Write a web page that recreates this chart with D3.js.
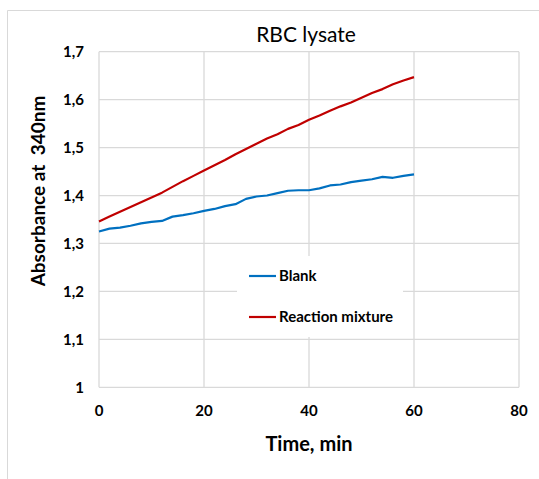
<!DOCTYPE html>
<html>
<head>
<meta charset="utf-8">
<script src="https://cdn.jsdelivr.net/npm/d3@7"></script>
<style>
  html, body { margin: 0; padding: 0; background: #fff; }
  svg { display: block; }
  text { font-family: Lato, "Open Sans", sans-serif; fill: #000; white-space: pre; }
</style>
</head>
<body>
<script>
const times = [0,2,4,6,8,10,12,14,16,18,20,22,24,26,28,30,32,34,36,38,40,42,44,46,48,50,52,54,56,58,60];
const blank = [1.325,1.331,1.333,1.337,1.342,1.345,1.347,1.356,1.359,1.363,1.368,1.372,1.378,1.382,1.393,1.398,1.400,1.405,1.410,1.411,1.411,1.415,1.421,1.423,1.428,1.431,1.434,1.439,1.437,1.441,1.444];
const reaction = [1.346,1.356,1.366,1.376,1.386,1.396,1.406,1.418,1.430,1.441,1.452,1.463,1.474,1.486,1.497,1.508,1.519,1.528,1.539,1.547,1.558,1.567,1.577,1.586,1.594,1.604,1.614,1.622,1.632,1.640,1.647];
const xTicks = [0,20,40,60,80];
const yTicks = [1,1.1,1.2,1.3,1.4,1.5,1.6,1.7];
const seriesNames = ["Blank","Reaction mixture"];
const seriesColors = ["#0070C0","#C00000"];
const title = "RBC lysate";
const xTitle = "Time, min";
const yTitle = "Absorbance at  340nm";

const W = 539, H = 479;
const svg = d3.select("body").append("svg").attr("width", W).attr("height", H);

// outer chart border
svg.append("path").attr("d", "M7.5,479 L7.5,10.5 L539,10.5")
  .attr("fill","none").attr("stroke","#d9d9d9").attr("stroke-width",1);

const x = d3.scaleLinear().domain([0,80]).range([99,519]);
const y = d3.scaleLinear().domain([1,1.7]).range([387.3,51.7]);

const grid = svg.append("g").attr("stroke","#d9d9d9").attr("stroke-width",1.3);
yTicks.forEach(v => grid.append("line").attr("x1",x(0)).attr("x2",x(80)).attr("y1",y(v)).attr("y2",y(v)));
xTicks.forEach(v => grid.append("line").attr("x1",x(v)).attr("x2",x(v)).attr("y1",y(1)).attr("y2",y(1.7)));

// tick labels
const fmt = v => (v === 1 ? "1" : d3.format(".1f")(v).replace(".", ","));
svg.append("g").selectAll("text").data(yTicks).join("text")
  .attr("x", 84).attr("y", d => y(d)).attr("dy","0.35em")
  .attr("text-anchor","end").attr("font-size",15).attr("font-weight","bold")
  .text(fmt);
svg.append("g").selectAll("text").data(xTicks).join("text")
  .attr("x", d => x(d)).attr("y", 411).attr("dy","0.35em")
  .attr("text-anchor","middle").attr("font-size",15).attr("font-weight","bold")
  .text(d => d);

// lines
const line = d3.line().x((d,i) => x(times[i])).y(d => y(d));
[blank, reaction].forEach((s,i) => {
  svg.append("path").datum(s).attr("d", line)
    .attr("fill","none").attr("stroke",seriesColors[i]).attr("stroke-width",2.2)
    .attr("stroke-linejoin","round");
});

// legend
svg.append("rect").attr("x",237).attr("y",256).attr("width",166).attr("height",81).attr("fill","#fff");
seriesNames.forEach((n,i) => {
  const ly = [276,317][i];
  svg.append("line").attr("x1",249).attr("x2",276).attr("y1",ly).attr("y2",ly)
    .attr("stroke",seriesColors[i]).attr("stroke-width",2.2);
  svg.append("text").attr("x",279).attr("y",ly).attr("dy","0.35em")
    .attr("font-size",15).attr("font-weight","bold").text(n);
});

// titles
svg.append("text").attr("x",306).attr("y",41.5).attr("text-anchor","middle")
  .attr("font-size",21).text(title);
svg.append("text").attr("x",309).attr("y",450.5).attr("text-anchor","middle")
  .attr("font-size",20).attr("font-weight","bold").text(xTitle);
svg.append("text").attr("transform","translate(38,191) rotate(-90)").attr("dy","0.35em")
  .attr("text-anchor","middle").attr("font-size",19).attr("font-weight","bold")
  .text(yTitle);
</script>
</body>
</html>
